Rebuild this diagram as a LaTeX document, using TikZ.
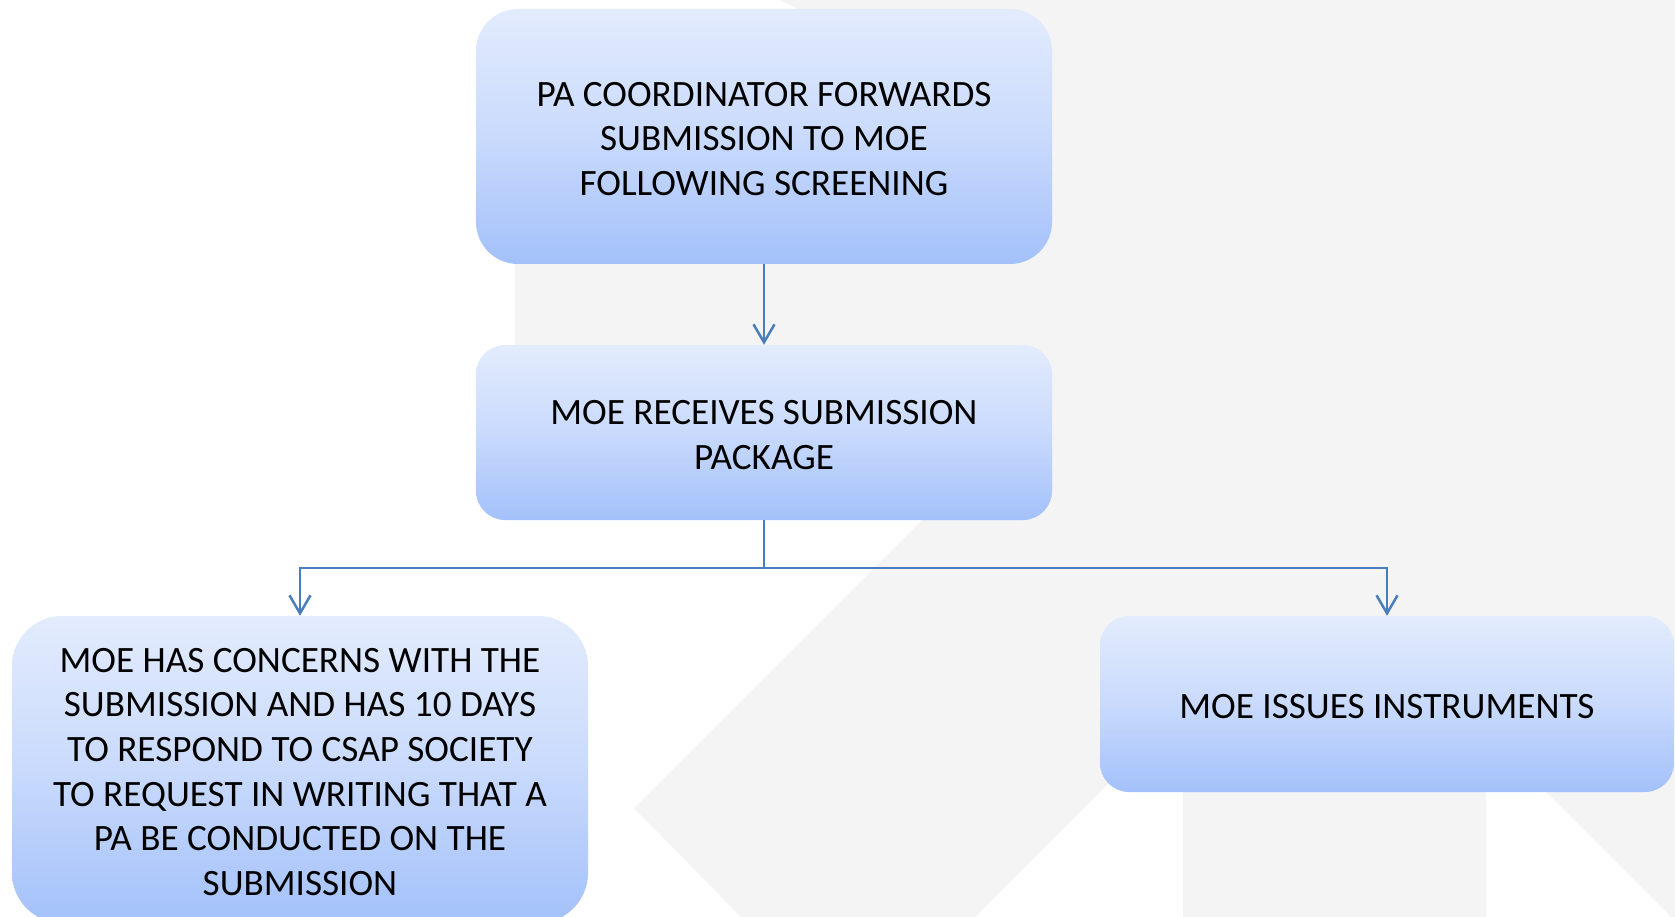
\documentclass[tikz,border=0pt]{standalone}
\usepackage{fontspec}
\setmainfont{Carlito}
\usetikzlibrary{arrows.meta}
\definecolor{bggray}{HTML}{F3F4F3}
\definecolor{boxtop}{HTML}{E3ECFD}
\definecolor{boxmid}{HTML}{C9DAFC}
\definecolor{boxbot}{HTML}{A3C1FA}
\definecolor{linkblue}{HTML}{4A7EBB}
\newcommand\mytopstrut{\rule{0pt}{29pt}}
\begin{document}
\begin{tikzpicture}[x=1pt,y=-1pt,
  box/.style={draw=none, top color=boxtop, bottom color=boxbot, middle color=boxmid,
    inner sep=0pt, align=center, font=\fontsize{37.2}{44.6}\selectfont},
  conn/.style={draw=linkblue, line width=2.5pt},
  tip/.style={-{Straight Barb[length=18pt,width=21pt]}}]
\useasboundingbox (0,0) rectangle (1675,917);
\clip (0,0) rectangle (1675,917);
% background watermark
\fill[white] (0,0) rectangle (1675,917);
\fill[bggray] (780,0) -- (1675,0) -- (1675,917) -- (1671,917) -- (1486,732)
  -- (1486,917) -- (1183,917) -- (1183,709) -- (975,917) -- (741,917)
  -- (634,808) -- (940,502) -- (515,480) -- (515,60) -- (820,20) -- cycle;
% boxes
\node[box, minimum width=576pt, minimum height=255pt, rounded corners=42pt]
  (top) at (764,136.5) {\mytopstrut PA COORDINATOR FORWARDS\\SUBMISSION TO MOE\\FOLLOWING SCREENING};
\node[box, minimum width=576pt, minimum height=175pt, rounded corners=29pt]
  (mid) at (764,432.5) {\mytopstrut MOE RECEIVES SUBMISSION\\PACKAGE};
\node[box, minimum width=576pt, minimum height=307pt, rounded corners=50pt]
  (left) at (300,769.5) {\mytopstrut MOE HAS CONCERNS WITH THE\\SUBMISSION AND HAS 10 DAYS\\TO RESPOND TO CSAP SOCIETY\\TO REQUEST IN WRITING THAT A\\PA BE CONDUCTED ON THE\\SUBMISSION};
\node[box, minimum width=574pt, minimum height=176pt, rounded corners=29pt]
  (right) at (1387,704) {\mytopstrut MOE ISSUES INSTRUMENTS};
% connectors
\coordinate (split) at (764,568);
\draw[conn, tip] (top) -- (mid);
\draw[conn] (mid) -- (split);
\draw[conn, tip] (split) -| (left);
\draw[conn, tip] (split) -| (right);
\end{tikzpicture}
\end{document}
